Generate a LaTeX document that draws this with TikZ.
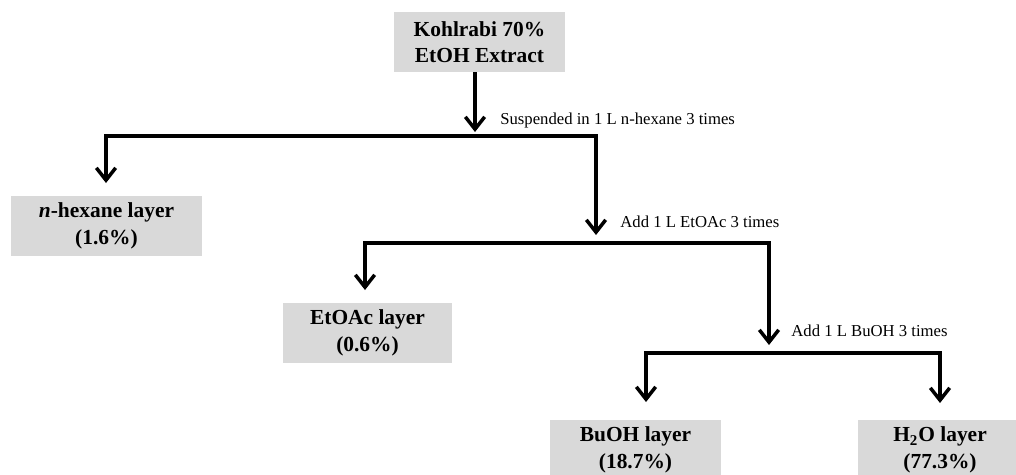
\documentclass[tikz,border=0pt]{standalone}
\usepackage{fontspec}
\setmainfont{Liberation Serif}
\usetikzlibrary{arrows.meta,positioning}
\definecolor{boxgray}{HTML}{D9D9D9}

\begin{document}
\begin{tikzpicture}[%
        x=0.02cm, y=-0.02cm,
        >={Straight Barb[length=7pt,width=11pt]},
        layer/.style={fill=boxgray, align=center, inner sep=0pt,
                      minimum height=1.2cm, font=\fontsize{12.2}{15}\selectfont\bfseries},
        note/.style={anchor=west, inner sep=0pt, font=\fontsize{9.5}{11}\selectfont},
        flow/.style={line width=2pt, line join=miter, ->}
        ]

        \useasboundingbox (0,0) rectangle (1016,474);

        % fractions
        \node[layer, minimum width=3.42cm] (extract) at (479.5,42) {Kohlrabi 70\%\\EtOH Extract};
        \node[layer, minimum width=3.82cm] (hexane) at (106.5,226) {\textit{n}-hexane layer\\(1.6\%)};
        \node[layer, minimum width=3.38cm] (etoac) at (367.5,333) {EtOAc layer\\(0.6\%)};
        \node[layer, minimum width=3.42cm] (buoh) at (635.5,450) {BuOH layer\\(18.7\%)};
        \node[layer, minimum width=3.28cm] (water) at (940,450) {H\textsubscript{2}O layer\\(77.3\%)};

        % branch points and arrow tips
        \coordinate (b1) at (475,136);
        \coordinate (b2) at (596,243);
        \coordinate (b3) at (769,353);
        \coordinate (t1) at (475,132);
        \coordinate (t2) at (106,183);
        \coordinate (t3) at (596,235);
        \coordinate (t4) at (365,290);
        \coordinate (t5) at (769,345);
        \coordinate (t6) at (646,402);
        \coordinate (t7) at (940,403);

        \draw[flow] (extract.south -| t1) -- (t1);
        \draw[flow] (b1) -| (t2);
        \draw[flow] (b1) -| (t3);
        \draw[flow] (b2) -| (t4);
        \draw[flow] (b2) -| (t5);
        \draw[flow] (b3) -| (t6);
        \draw[flow] (b3) -| (t7);

        \node[note] (step1) at (500,120) {Suspended in 1 L n-hexane 3 times};
        \node[note] (step2) at (620,222) {Add 1 L EtOAc 3 times};
        \node[note] (step3) at (791,331) {Add 1 L BuOH 3 times};

        \end{tikzpicture}
\end{document}
